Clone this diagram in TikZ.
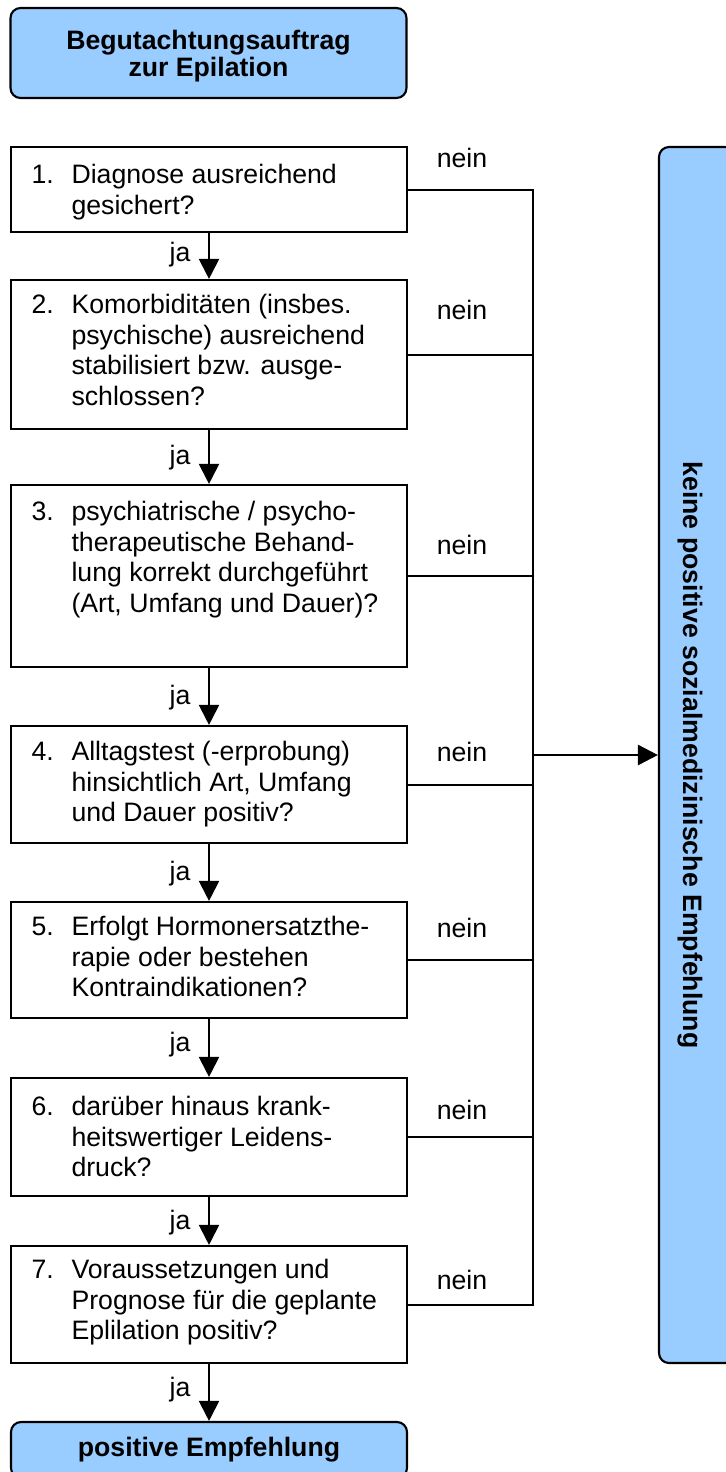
\documentclass[tikz,border=0pt]{standalone}
\usepackage{fontspec}
\setmainfont{Liberation Sans}
\usetikzlibrary{arrows.meta}
\definecolor{lblue}{HTML}{99CCFF}
\begin{document}
\begin{tikzpicture}[x=0.375pt,y=-0.375pt,
  qbox/.style={draw, line width=0.8pt, minimum width=148.5pt, inner sep=0pt},
  tbox/.style={draw, line width=0.8pt, fill=lblue, rounded corners=3.75pt, minimum width=148.5pt, inner sep=0pt},
  qtext/.style={anchor=west, inner sep=0pt, font=\fontsize{10}{11.5}\selectfont},
  lab/.style={inner sep=0pt, font=\fontsize{10}{12}\selectfont},
  btext/.style={inner sep=0pt, align=center, font=\fontsize{10}{10}\selectfont\bfseries},
  conn/.style={line width=0.75pt},
  arr/.style={conn, -{Triangle[length=7.5pt,width=7.5pt]}}]
\useasboundingbox (0,0) rectangle (726,1472);

% start and end boxes
\node[tbox, minimum height=33.75pt] (t) at (208.5,53) {};
\node[btext] (tt) at (208.5,56) {Begutachtungsauftrag\\zur Epilation};
\node[tbox, minimum height=21pt] (f) at (209,1450) {};
\node[btext] (ft) at (209,1450) {positive Empfehlung};
\node[tbox, minimum width=28.5pt, minimum height=456pt] (r) at (697,755) {};
\node[btext, rotate=-90] (rt) at (690,755) {keine positive sozialmedizinische Empfehlung};

% question boxes
\node[qbox, minimum height=31.875pt] (b1) at (209,189.5) {};
\node[qbox, minimum height=55.875pt] (b2) at (209,354.5) {};
\node[qbox, minimum height=68.25pt]  (b3) at (209,576) {};
\node[qbox, minimum height=43.875pt] (b4) at (209,784.5) {};
\node[qbox, minimum height=43.5pt]   (b5) at (209,960) {};
\node[qbox, minimum height=44.25pt]  (b6) at (209,1137) {};
\node[qbox, minimum height=43.875pt] (b7) at (209,1304.5) {};

\node[qtext] (q1) at (31,193) {\begin{tabular}{@{}p{15pt}@{}l@{}}1. & Diagnose ausreichend\\ & gesichert?\end{tabular}};
\node[qtext] (q2) at (31,353.5) {\begin{tabular}{@{}p{15pt}@{}l@{}}2. & Komorbiditäten (insbes.\\ & psychische) ausreichend\\ & stabilisiert bzw. ausge-\\ & schlossen?\end{tabular}};
\node[qtext] (q3) at (31,560.5) {\begin{tabular}{@{}p{15pt}@{}l@{}}3. & psychiatrische / psycho-\\ & therapeutische Behand-\\ & lung korrekt durchgeführt\\ & (Art, Umfang und Dauer)?\end{tabular}};
\node[qtext] (q4) at (31,785) {\begin{tabular}{@{}p{15pt}@{}l@{}}4. & Alltagstest (-erprobung)\\ & hinsichtlich Art, Umfang\\ & und Dauer positiv?\end{tabular}};
\node[qtext] (q5) at (31,960) {\begin{tabular}{@{}p{15pt}@{}l@{}}5. & Erfolgt Hormonersatzthe-\\ & rapie oder bestehen\\ & Kontraindikationen?\end{tabular}};
\node[qtext] (q6) at (31,1140) {\begin{tabular}{@{}p{15pt}@{}l@{}}6. & darüber hinaus krank-\\ & heitswertiger Leidens-\\ & druck?\end{tabular}};
\node[qtext] (q7) at (31,1303) {\begin{tabular}{@{}p{15pt}@{}l@{}}7. & Voraussetzungen und\\ & Prognose für die geplante\\ & Eplilation positiv?\end{tabular}};

% ja arrows
\draw[arr] (b1.south) -- (b2.north);
\draw[arr] (b2.south) -- (b3.north);
\draw[arr] (b3.south) -- (b4.north);
\draw[arr] (b4.south) -- (b5.north);
\draw[arr] (b5.south) -- (b6.north);
\draw[arr] (b6.south) -- (b7.north);
\draw[arr] (b7.south) -- (f.north);

\node[lab] (j1) at (180,255) {ja};
\node[lab] (j2) at (180,458) {ja};
\node[lab] (j3) at (180,698) {ja};
\node[lab] (j4) at (180,874) {ja};
\node[lab] (j5) at (180,1045) {ja};
\node[lab] (j6) at (180,1223) {ja};
\node[lab] (j7) at (180,1390) {ja};

% nein lines
\coordinate (vx) at (533,755);
\draw[conn] (b1.east) -- (b1.east -| vx) -- (b7.east -| vx) -- (b7.east);
\draw[conn] (b2.east) -- (b2.east -| vx);
\draw[conn] (b3.east) -- (b3.east -| vx);
\draw[conn] (b4.east) -- (b4.east -| vx);
\draw[conn] (b5.east) -- (b5.east -| vx);
\draw[conn] (b6.east) -- (b6.east -| vx);
\draw[arr, line width=1pt] (vx) -- (r.west);

\node[lab] (n1) at (462,158) {nein};
\node[lab] (n2) at (462,310) {nein};
\node[lab] (n3) at (462,545) {nein};
\node[lab] (n4) at (462,752) {nein};
\node[lab] (n5) at (462,928) {nein};
\node[lab] (n6) at (462,1110) {nein};
\node[lab] (n7) at (462,1280) {nein};
\end{tikzpicture}
\end{document}
